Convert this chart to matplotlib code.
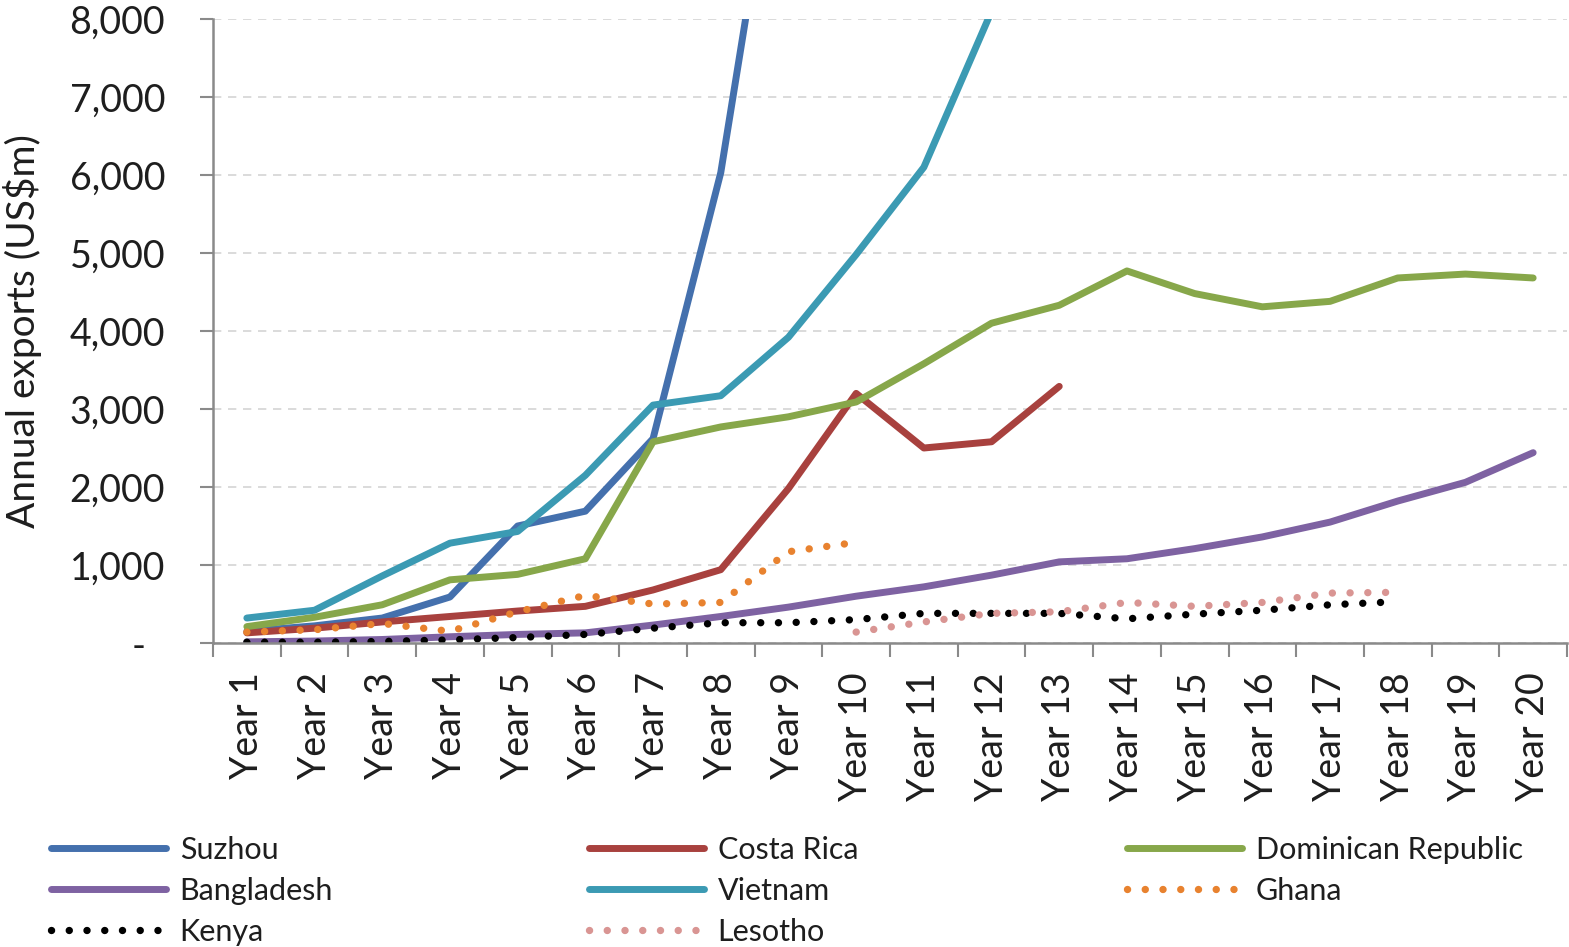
import matplotlib.pyplot as plt
import numpy as np

plt.rcParams['font.family'] = ['Lato', 'DejaVu Sans']

years = ["Year {}".format(i) for i in range(1, 21)]
nan = np.nan

# annual exports, US$m (nan = no data for that year)
suzhou = [150, 220, 320, 590, 1500, 1690, 2620, 6030, 11400] + [nan] * 11
costa_rica = [130, 190, 270, 340, 410, 470, 680, 940, 1980, 3200, 2500, 2580, 3290] + [nan] * 7
dominican_republic = [210, 330, 490, 810, 880, 1080, 2580, 2770, 2900, 3090,
                      3580, 4100, 4330, 4770, 4480, 4310, 4380, 4680, 4730, 4680]
bangladesh = [15, 25, 45, 80, 110, 130, 230, 340, 460, 600,
              720, 870, 1040, 1080, 1210, 1360, 1550, 1820, 2060, 2440]
vietnam = [320, 420, 860, 1280, 1430, 2150, 3050, 3170, 3920, 4980, 6100, 8100, 9300] + [nan] * 7
ghana = [140, 170, 250, 150, 400, 610, 500, 520, 1170, 1290] + [nan] * 10
kenya = [10, 10, 20, 40, 70, 110, 190, 260, 260, 300,
         380, 380, 380, 310, 370, 420, 490, 530] + [nan] * 2
lesotho = [nan] * 9 + [140, 270, 380, 400, 520, 470, 520, 640, 650] + [nan] * 2

y_ticks = [0, 1000, 2000, 3000, 4000, 5000, 6000, 7000, 8000]
y_tick_labels = ["-  ", "1,000", "2,000", "3,000", "4,000", "5,000", "6,000", "7,000", "8,000"]

series = [
    ("Suzhou", suzhou, "#4470AD", "solid"),
    ("Costa Rica", costa_rica, "#A8413E", "solid"),
    ("Dominican Republic", dominican_republic, "#87A74A", "solid"),
    ("Bangladesh", bangladesh, "#7E62A2", "solid"),
    ("Vietnam", vietnam, "#3B9AB3", "solid"),
    ("Ghana", ghana, "#E8822F", "dot"),
    ("Kenya", kenya, "#000000", "dot"),
    ("Lesotho", lesotho, "#D99593", "dot"),
]

text_color = "#1E1E1E"
axis_color = "#8A8A8A"

fig = plt.figure(figsize=(15.69, 9.47), dpi=100)
ax = fig.add_axes([213 / 1569, 1 - 643 / 947, (1567 - 213) / 1569, (643 - 19) / 947])

x = np.arange(len(years))
handles = {}
for name, values, color, style in series:
    if style == "solid":
        line, = ax.plot(x, values, color=color, lw=5, solid_capstyle="round",
                        solid_joinstyle="round", label=name)
    else:
        line, = ax.plot(x, values, color=color, lw=5.3, linestyle=(0, (0.01, 2.4)),
                        dash_capstyle="round", label=name)
    handles[name] = line

ax.set_xlim(-0.5, len(years) - 0.5)
ax.set_ylim(0, 8000)

ax.set_yticks(y_ticks)
ax.set_yticklabels(y_tick_labels, fontsize=27, color=text_color)
ax.set_xticks(x)
ax.set_xticklabels(years, rotation=90, fontsize=27, color=text_color)
ax.set_xticks(np.arange(len(years) + 1) - 0.5, minor=True)
ax.tick_params(axis="x", which="major", length=0, pad=21)
ax.tick_params(axis="x", which="minor", length=10, width=1.5, color=axis_color)
ax.tick_params(axis="y", length=9.5, width=1.5, color=axis_color, pad=25)

ax.grid(axis="y", color="#D4D4D4", linestyle=(0, (5, 4)), lw=1.2)
ax.set_axisbelow(True)
for side in ["top", "right"]:
    ax.spines[side].set_visible(False)
for side in ["left", "bottom"]:
    ax.spines[side].set_color(axis_color)
    ax.spines[side].set_linewidth(1.8)

ax.set_ylabel("Annual exports (US$m)", fontsize=28, color=text_color)
ax.yaxis.set_label_coords((42 - 213) / 1354, 0.5)

# legend laid out as three separate columns
columns = [["Suzhou", "Bangladesh", "Kenya"],
           ["Costa Rica", "Vietnam", "Lesotho"],
           ["Dominican Republic", "Ghana"]]
col_x = [51, 589, 1127]
for names, cx in zip(columns, col_x):
    leg = fig.legend([handles[n] for n in names], names, loc="upper left",
                     bbox_to_anchor=(cx / 1569, 1 - 836 / 947), frameon=False,
                     fontsize=22, handlelength=3.76, handletextpad=0.45,
                     labelspacing=0.42, borderpad=0, borderaxespad=0)
    for t in leg.get_texts():
        t.set_color(text_color)

fig.savefig("out.png", dpi=100)
